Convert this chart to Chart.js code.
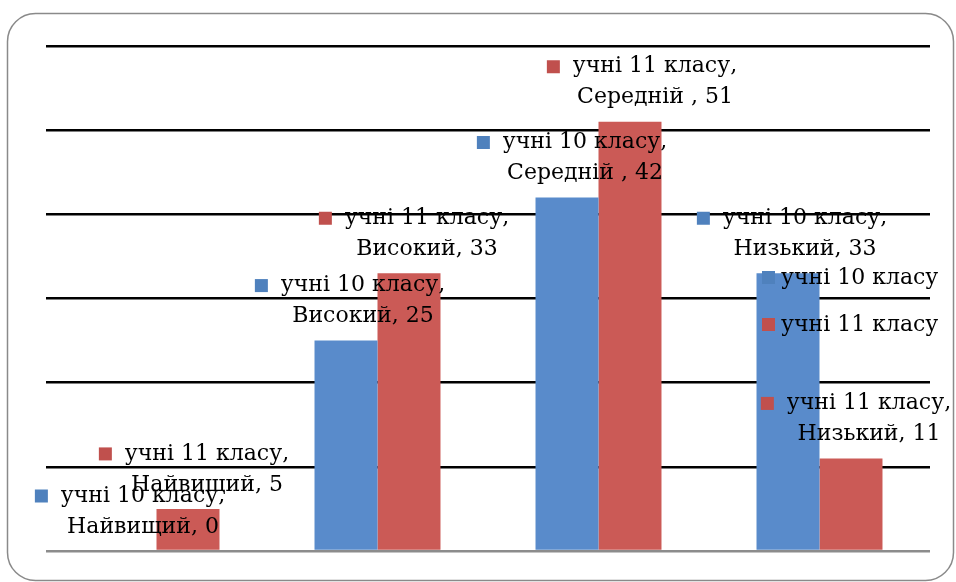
<!DOCTYPE html>
<html><head><meta charset="utf-8">
<script src="https://cdn.jsdelivr.net/npm/chart.js@4.4.0/dist/chart.umd.min.js"></script>
<style>html,body{margin:0;padding:0;background:#fff}#wrap{width:956px;height:582px;position:relative}</style>
</head><body><div id="wrap"><canvas id="c" width="956" height="582"></canvas></div>
<script>
const categories = ['Найвищий', 'Високий', 'Середній ', 'Низький'];
const seriesNames = ['учні 10 класу', 'учні 11 класу'];
const grade10 = [0, 25, 42, 33];
const grade11 = [5, 33, 51, 11];
const yTicks = [0, 10, 20, 30, 40, 50, 60];

const barColors = ['#598BCB', '#CB5A56'];
const markerColors = ['#4F81BD', '#C0504D'];
// horizontal nudges of each data label (text centre relative to bar centre), px
const labelDx = [[18, 17, 18, 17], [19, 18, 25, 18]];
const FONT = '22px "DejaVu Serif"';

const frame = {
  id: 'frame',
  beforeDraw(chart) {
    const c = chart.ctx;
    c.save();
    c.fillStyle = '#fff';
    c.fillRect(0, 0, chart.width, chart.height);
    c.strokeStyle = '#8a8a8a';
    c.lineWidth = 1.5;
    c.beginPath();
    c.roundRect(7.5, 13.5, 946, 567, 28);
    c.stroke();
    c.restore();
  }
};

const labels = {
  id: 'labels',
  afterDatasetsDraw(chart) {
    const c = chart.ctx;
    c.save();
    c.font = FONT;
    c.fillStyle = '#000';
    c.textBaseline = 'middle';
    chart.data.datasets.forEach((ds, i) => {
      const meta = chart.getDatasetMeta(i);
      meta.data.forEach((el, j) => {
        const l1 = ds.label + ',';
        const l2 = categories[j] + ', ' + ds.data[j];
        const cx = el.x + labelDx[i][j];
        const y1 = el.y - 55, y2 = el.y - 24;
        const w1 = c.measureText(l1).width;
        c.textAlign = 'center';
        c.fillStyle = '#000';
        c.fillText(l1, cx, y1);
        c.fillText(l2, cx, y2);
        c.fillStyle = markerColors[i];
        c.fillRect(cx - w1 / 2 - 26, y1 - 6.5, 13, 13);
      });
    });
    // legend
    c.textAlign = 'left';
    seriesNames.forEach((n, i) => {
      const y = 278 + i * 47;
      c.fillStyle = markerColors[i];
      c.fillRect(762, y - 7, 13, 13);
      c.fillStyle = '#000';
      c.fillText(n, 781, y);
    });
    c.restore();
  }
};

new Chart(document.getElementById('c'), {
  type: 'bar',
  data: {
    labels: categories,
    datasets: [
      { label: seriesNames[0], data: grade10, backgroundColor: barColors[0], borderWidth: 0 },
      { label: seriesNames[1], data: grade11, backgroundColor: barColors[1], borderWidth: 0 }
    ]
  },
  options: {
    responsive: false,
    animation: false,
    devicePixelRatio: 1,
    layout: { padding: { left: 46, right: 26, top: 46, bottom: 31 } },
    categoryPercentage: 0.57,
    barPercentage: 1,
    plugins: { legend: { display: false }, tooltip: { enabled: false } },
    scales: {
      x: {
        ticks: { display: false },
        grid: { display: false, drawTicks: false },
        border: { display: false }
      },
      y: {
        min: yTicks[0],
        max: yTicks[yTicks.length - 1],
        afterBuildTicks(axis) { axis.ticks = yTicks.map(v => ({ value: v })); },
        ticks: { display: false },
        grid: {
          drawTicks: false,
          color: ctx => ctx.tick && ctx.tick.value === 0 ? '#8c8c8c' : '#000',
          lineWidth: 2.5
        },
        border: { display: false }
      }
    }
  },
  plugins: [frame, labels]
});
</script></body></html>
